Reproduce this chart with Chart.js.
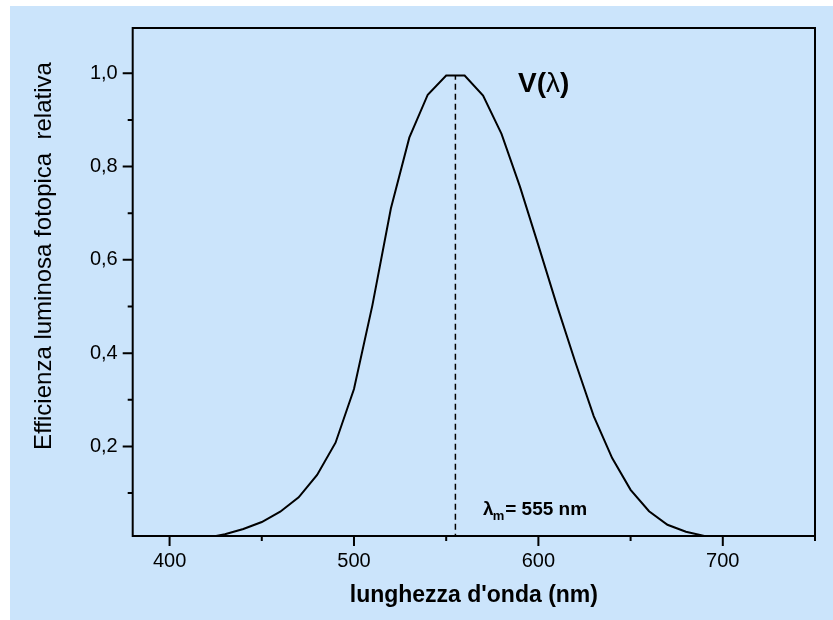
<!DOCTYPE html>
<html>
<head>
<meta charset="utf-8">
<script src="https://cdn.jsdelivr.net/npm/chart.js@4.4.1/dist/chart.umd.min.js"></script>
<style>
  body { margin: 0; background: #fff; }
  #wrap { position: absolute; left: 10px; top: 6px; width: 823px; height: 614px; background: #cbe4fb; }
</style>
</head>
<body>
<div id="wrap"><canvas id="chart" width="823" height="614"></canvas></div>
<script>
// curva V(lambda), passo 10 nm
const wavelengths = [380, 390, 400, 410, 420, 430, 440, 450, 460, 470, 480, 490, 500, 510, 520, 530, 540, 550, 560,
    570, 580, 590, 600, 610, 620, 630, 640, 650, 660, 670, 680, 690, 700, 710, 720, 730, 740, 750];
const vLambda = [0.00004, 0.00012, 0.0004, 0.0012, 0.004, 0.0116, 0.023, 0.038, 0.06, 0.091, 0.139, 0.208, 0.323,
    0.503, 0.71, 0.862, 0.954, 0.995, 0.995, 0.952, 0.87, 0.757, 0.631, 0.503, 0.381, 0.265, 0.175, 0.107, 0.061,
    0.032, 0.017, 0.0082, 0.0041, 0.0021, 0.001, 0.0005, 0.00025, 0.00012];

// linea tratteggiata al massimo
const peakWavelength = 555;
const peakLine = [0, 0.995];

const xTicks = [400, 500, 600, 700];
const xMinorTicks = [450, 550, 650, 750];
const yTicks = [0.2, 0.4, 0.6, 0.8, 1.0];
const yMinorTicks = [0.1, 0.3, 0.5, 0.7, 0.9];

const xTitle = "lunghezza d'onda (nm)";
const yTitle = 'Efficienza luminosa fotopica  relativa';
const curveLabel = ['V(', 'λ', ')'];
const peakLabel = ['λ', 'm', '= 555 nm'];

const FONT = '"Liberation Sans", Arial, sans-serif';
Chart.defaults.font.family = FONT;
Chart.defaults.color = '#000';

const frame = {
    id: 'frame',
    afterDatasetsDraw(chart) {
        const {ctx, chartArea: a, scales: {x, y}} = chart;
        ctx.save();
        ctx.strokeStyle = '#000';
        ctx.lineWidth = 2;
        ctx.strokeRect(a.left, a.top, a.right - a.left, a.bottom - a.top);
        ctx.beginPath();
        xTicks.forEach(v => { const p = x.getPixelForValue(v); ctx.moveTo(p, a.bottom); ctx.lineTo(p, a.bottom + 10); });
        xMinorTicks.forEach(v => { const p = x.getPixelForValue(v); ctx.moveTo(p, a.bottom); ctx.lineTo(p, a.bottom + 5); });
        yTicks.forEach(v => { const p = y.getPixelForValue(v); ctx.moveTo(a.left, p); ctx.lineTo(a.left - 10, p); });
        yMinorTicks.forEach(v => { const p = y.getPixelForValue(v); ctx.moveTo(a.left, p); ctx.lineTo(a.left - 5, p); });
        ctx.stroke();

        ctx.fillStyle = '#000';

        // V(lambda)
        let px = x.getPixelForValue(589);
        let py = y.getPixelForValue(0.976);
        ctx.textBaseline = 'middle';
        ctx.textAlign = 'left';
        ['bold 28px ', '28px ', 'bold 28px '].forEach((f, i) => {
            ctx.font = f + FONT;
            ctx.fillText(curveLabel[i], px, py);
            px += ctx.measureText(curveLabel[i]).width;
        });

        // lambda_m = 555 nm
        px = x.getPixelForValue(570);
        py = y.getPixelForValue(0.052);
        ctx.textBaseline = 'alphabetic';
        ctx.font = 'bold 19px ' + FONT;
        ctx.fillText(peakLabel[0], px, py);
        px += ctx.measureText(peakLabel[0]).width - 1;
        ctx.font = 'bold 13px ' + FONT;
        ctx.fillText(peakLabel[1], px, py + 5);
        px += ctx.measureText(peakLabel[1]).width + 1;
        ctx.font = 'bold 19px ' + FONT;
        ctx.fillText(peakLabel[2], px, py);

        // titolo asse y
        ctx.font = '24px ' + FONT;
        ctx.textAlign = 'center';
        ctx.textBaseline = 'middle';
        ctx.translate(34, 250);
        ctx.rotate(-Math.PI / 2);
        ctx.fillText(yTitle, 0, 0);
        ctx.restore();
    }
};

new Chart(document.getElementById('chart'), {
    type: 'line',
    data: {
        datasets: [{
            data: wavelengths.map((w, i) => ({x: w, y: vLambda[i]})),
            borderColor: '#000',
            borderWidth: 2,
            pointRadius: 0,
            tension: 0,
            clip: 0
        }, {
            data: peakLine.map(v => ({x: peakWavelength, y: v})),
            borderColor: '#000',
            borderWidth: 1.5,
            borderDash: [6, 4],
            pointRadius: 0,
            clip: 0
        }]
    },
    options: {
        responsive: false,
        animation: false,
        devicePixelRatio: 1,
        layout: {padding: {top: 22, right: 18, left: 0, bottom: 0}},
        plugins: {legend: {display: false}, tooltip: {enabled: false}},
        scales: {
            x: {
                type: 'linear',
                min: 380,
                max: 750,
                grid: {display: false, drawTicks: false},
                border: {display: false},
                afterBuildTicks: s => { s.ticks = xTicks.map(v => ({value: v})); },
                afterFit: s => { s.height = 84; s.paddingLeft = 0; s.paddingRight = 0; },
                ticks: {
                    padding: 13,
                    font: {size: 20},
                    color: '#000',
                    callback: v => v
                },
                title: {
                    display: true,
                    text: xTitle,
                    font: {size: 23, weight: 'bold'},
                    color: '#000',
                    padding: {top: 0, bottom: 11}
                }
            },
            y: {
                min: 0.008,
                max: 1.097,
                grid: {display: false, drawTicks: false},
                border: {display: false},
                afterBuildTicks: s => { s.ticks = yTicks.map(v => ({value: v})); },
                afterFit: s => { s.width = 122.7; s.paddingTop = 0; s.paddingBottom = 0; },
                ticks: {
                    padding: 15,
                    font: {size: 20},
                    color: '#000',
                    callback: v => v.toFixed(1).replace('.', ',')
                }
            }
        }
    },
    plugins: [frame]
});
</script>
</body>
</html>
